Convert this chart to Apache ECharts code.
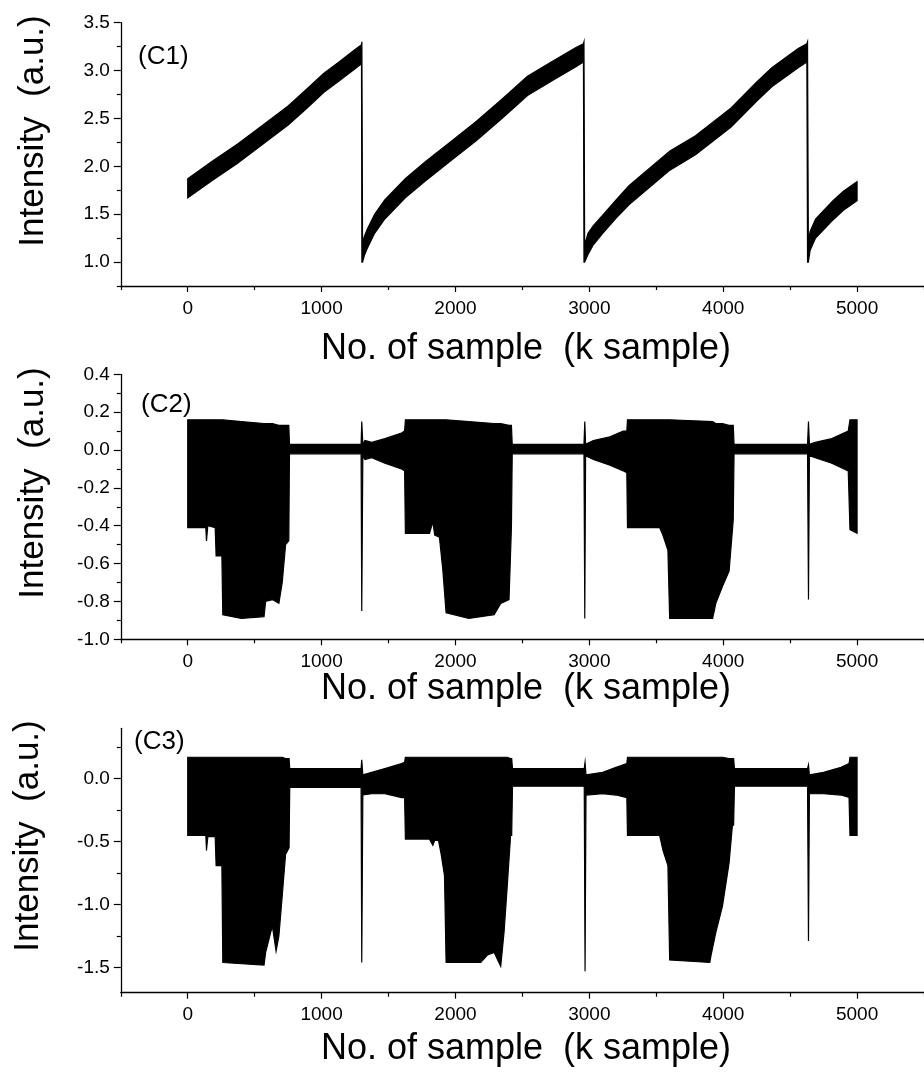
<!DOCTYPE html>
<html><head><meta charset="utf-8">
<script src="https://cdn.jsdelivr.net/npm/echarts@6/dist/echarts.min.js"></script>
<style>html,body{margin:0;padding:0;background:#fff}#c{width:924px;height:1081px}</style>
</head><body><div id="c"></div>
<script>
// ---- tick values ----
const xMajorTicks = [0, 1000, 2000, 3000, 4000, 5000];
const xMinorTicks = [-500, 500, 1500, 2500, 3500, 4500, 5500];
const c1YMajor = [1.0, 1.5, 2.0, 2.5, 3.0, 3.5];
const c1YMinor = [0.75, 1.25, 1.75, 2.25, 2.75, 3.25];
const c2YMajor = [-1.0, -0.8, -0.6, -0.4, -0.2, 0.0, 0.2, 0.4];
const c2YMinor = [-0.9, -0.7, -0.5, -0.3, -0.1, 0.1, 0.3];
const c3YMajor = [-1.5, -1.0, -0.5, 0.0];
const c3YMinor = [-1.25, -0.75, -0.25, 0.25];
const panelLabels = ['(C1)', '(C2)', '(C3)'];
const xTitle = 'No. of sample  (k sample)';
const yTitle = 'Intensity  (a.u.)';

// ---- C1 envelope (k sample, lower, upper) ----
const c1X  = [0,180,370,560,750,900,1015,1130,1250,1298,1301,1306,1320,1340,1396,1472,1625,1777,1967,2157,2347,2538,2728,2900,2956,2960,2965,2990,3030,3100,3200,3298,3602,3793,4059,4249,4363,4560,4625,4630,4636,4649,4690,4744,4820,4898,5000];
const c1Lo = [1.67,1.85,2.03,2.23,2.43,2.62,2.77,2.89,3.02,3.07,1.00,1.00,1.07,1.14,1.30,1.45,1.67,1.85,2.06,2.27,2.50,2.74,2.90,3.04,3.09,1.00,1.00,1.08,1.18,1.30,1.46,1.60,1.96,2.12,2.41,2.68,2.83,3.03,3.09,1.00,1.00,1.12,1.25,1.33,1.44,1.54,1.64];
const c1Hi = [1.87,2.05,2.23,2.43,2.63,2.82,2.97,3.09,3.22,3.27,3.30,1.20,1.27,1.34,1.50,1.65,1.87,2.05,2.26,2.47,2.70,2.94,3.10,3.24,3.28,3.30,1.18,1.30,1.38,1.49,1.65,1.80,2.16,2.32,2.61,2.88,3.03,3.23,3.28,3.30,1.20,1.32,1.45,1.53,1.64,1.74,1.84];

// ---- C2 envelope ----
const c2X = [0,135,140,150,205,212,255,262,400,570,582,632,681,706,731,755,760,1295,1300,1308,1324,1374,1473,1597,1620,1626,1806,1831,1845,1880,1905,1930,2100,2289,2338,2400,2418,2424,2960,2966,2972,3030,3154,3253,3280,3285,3525,3550,3587,3600,3921,3945,3995,4044,4075,4081,4630,4637,4644,4687,4811,4934,4947,5000];
const c2Lo = [-0.41,-0.41,-0.48,-0.40,-0.41,-0.56,-0.56,-0.87,-0.89,-0.88,-0.80,-0.79,-0.81,-0.70,-0.50,-0.48,-0.02,-0.02,-0.85,-0.03,-0.05,-0.04,-0.07,-0.10,-0.11,-0.44,-0.44,-0.38,-0.45,-0.46,-0.63,-0.86,-0.89,-0.87,-0.81,-0.79,-0.41,-0.02,-0.02,-0.89,-0.03,-0.05,-0.08,-0.11,-0.12,-0.41,-0.41,-0.45,-0.53,-0.89,-0.89,-0.81,-0.72,-0.64,-0.37,-0.02,-0.02,-0.79,-0.03,-0.04,-0.07,-0.11,-0.42,-0.44];
const c2Hi = [0.16,0.16,0.16,0.16,0.16,0.16,0.16,0.16,0.15,0.14,0.14,0.14,0.13,0.13,0.13,0.13,0.03,0.03,0.15,0.03,0.05,0.04,0.06,0.09,0.10,0.16,0.16,0.16,0.16,0.16,0.16,0.16,0.15,0.14,0.14,0.13,0.13,0.03,0.03,0.15,0.03,0.05,0.07,0.10,0.10,0.16,0.16,0.16,0.16,0.16,0.15,0.14,0.14,0.13,0.13,0.03,0.03,0.15,0.03,0.04,0.06,0.10,0.16,0.16];

// ---- C3 envelope ----
const c3X = [0,135,140,150,205,212,255,262,570,582,632,660,681,706,731,757,762,1295,1300,1308,1374,1473,1597,1620,1626,1806,1831,1845,1873,1893,1918,1930,2189,2240,2289,2338,2363,2387,2412,2420,2426,2962,2968,2975,3100,3200,3280,3285,3525,3550,3587,3600,3900,3908,3945,3995,4044,4069,4078,4084,4630,4637,4644,4750,4880,4940,4947,5000];
const c3Lo = [-0.45,-0.45,-0.57,-0.46,-0.46,-0.69,-0.69,-1.46,-1.48,-1.38,-1.17,-1.37,-1.25,-0.93,-0.60,-0.55,-0.07,-0.07,-1.46,-0.13,-0.12,-0.12,-0.15,-0.15,-0.48,-0.48,-0.53,-0.49,-0.49,-0.60,-0.77,-1.46,-1.46,-1.40,-1.38,-1.49,-1.22,-0.85,-0.45,-0.45,-0.06,-0.06,-1.53,-0.13,-0.12,-0.13,-0.15,-0.45,-0.45,-0.57,-0.69,-1.44,-1.46,-1.41,-1.22,-1.01,-0.67,-0.37,-0.37,-0.06,-0.06,-1.29,-0.12,-0.12,-0.13,-0.15,-0.45,-0.45];
const c3Hi = [0.17,0.17,0.17,0.17,0.17,0.17,0.17,0.17,0.17,0.17,0.17,0.17,0.17,0.17,0.16,0.16,0.08,0.08,0.15,0.03,0.05,0.08,0.12,0.13,0.17,0.17,0.17,0.17,0.17,0.17,0.17,0.17,0.17,0.17,0.17,0.17,0.17,0.17,0.16,0.16,0.08,0.08,0.13,0.03,0.05,0.09,0.12,0.17,0.17,0.17,0.17,0.17,0.17,0.17,0.17,0.17,0.16,0.16,0.16,0.08,0.08,0.11,0.03,0.05,0.09,0.12,0.17,0.17];

const FONT = '"Liberation Sans", Arial, Helvetica, sans-serif';
const panels = [
  {x: c1X, lo: c1Lo, hi: c1Hi, yMin: 0.75, yMax: 3.5, yMajor: c1YMajor, yMinor: c1YMinor},
  {x: c2X, lo: c2Lo, hi: c2Hi, yMin: -1.0, yMax: 0.4, yMajor: c2YMajor, yMinor: c2YMinor},
  {x: c3X, lo: c3Lo, hi: c3Hi, yMin: -1.7, yMax: 0.4, yMajor: c3YMajor, yMinor: c3YMinor}
];
const gridBoxes = [
  {left: 120.8, top: 22.7, width: 808.8, height: 263.3},
  {left: 120.8, top: 374.3, width: 808.8, height: 265},
  {left: 120.8, top: 728.3, width: 808.8, height: 264.4}
];
const panelLabelPos = [[138, 57], [141, 405], [134, 742]];
const yTitlePos = [[33, 131], [33, 483], [28, 836]];
const xTitlePos = [[526, 349], [526, 689], [526, 1049]];

const axisLineStyle = {color: '#000', width: 1.3};
const grid = [], xAxis = [], yAxis = [], series = [], graphic = [];

panels.forEach((p, gi) => {
  grid.push(Object.assign({containLabel: false}, gridBoxes[gi]));
  xAxis.push({
    type: 'value', gridIndex: gi, position: 'bottom', min: -500, max: 5500,
    axisLine: {show: true, onZero: false, lineStyle: axisLineStyle},
    axisTick: {show: true, length: 6, customValues: xMajorTicks, lineStyle: {color: '#000', width: 1.2}},
    axisLabel: {show: true, customValues: xMajorTicks, margin: 13, fontSize: 19, fontFamily: FONT, color: '#000',
      formatter: v => String(v)},
    splitLine: {show: false}
  });
  xAxis.push({
    type: 'value', gridIndex: gi, position: 'bottom', min: -500, max: 5500,
    axisLine: {show: false, onZero: false},
    axisTick: {show: true, length: 4, customValues: xMinorTicks, lineStyle: {color: '#000', width: 1.2}},
    axisLabel: {show: false},
    splitLine: {show: false}
  });
  yAxis.push({
    type: 'value', gridIndex: gi, position: 'left', min: p.yMin, max: p.yMax,
    axisLine: {show: true, onZero: false, lineStyle: axisLineStyle},
    axisTick: {show: true, length: 7, customValues: p.yMajor, lineStyle: {color: '#000', width: 1.2}},
    axisLabel: {show: true, customValues: p.yMajor, margin: 11, fontSize: 19, fontFamily: FONT, color: '#000',
      formatter: v => v.toFixed(1)},
    splitLine: {show: false}
  });
  yAxis.push({
    type: 'value', gridIndex: gi, position: 'left', min: p.yMin, max: p.yMax,
    axisLine: {show: false, onZero: false},
    axisTick: {show: true, length: 4, customValues: p.yMinor, lineStyle: {color: '#000', width: 1.2}},
    axisLabel: {show: false},
    splitLine: {show: false}
  });
  const data = p.x.map((x, i) => [x, p.lo[i], p.hi[i]]);
  series.push({
    type: 'custom', xAxisIndex: gi * 2, yAxisIndex: gi * 2, data: data, silent: true, clip: true,
    encode: {x: 0, y: [1, 2]},
    renderItem: function (params, api) {
      if (params.dataIndex !== 0) return null;
      const pts = [];
      for (let i = 0; i < data.length; i++) pts.push(api.coord([data[i][0], data[i][2]]));
      for (let i = data.length - 1; i >= 0; i--) pts.push(api.coord([data[i][0], data[i][1]]));
      return {type: 'polygon', shape: {points: pts},
        style: {fill: '#000', stroke: '#000', lineWidth: 1.2, lineJoin: 'miter'}};
    }
  });
  graphic.push({type: 'text', x: panelLabelPos[gi][0], y: panelLabelPos[gi][1],
    style: {text: panelLabels[gi], font: '26px ' + FONT, fill: '#000', align: 'left', verticalAlign: 'middle'}});
  graphic.push({type: 'text', x: yTitlePos[gi][0], y: yTitlePos[gi][1], rotation: Math.PI / 2,
    style: {text: yTitle, font: '35px ' + FONT, fill: '#000', align: 'center', verticalAlign: 'middle'}});
  graphic.push({type: 'text', x: xTitlePos[gi][0], y: xTitlePos[gi][1],
    style: {text: xTitle, font: '36px ' + FONT, fill: '#000', align: 'center', verticalAlign: 'middle'}});
});

const chart = echarts.init(document.getElementById('c'), null, {renderer: 'canvas'});
chart.setOption({animation: false, backgroundColor: '#fff', grid, xAxis, yAxis, series, graphic});
</script>
</body></html>
